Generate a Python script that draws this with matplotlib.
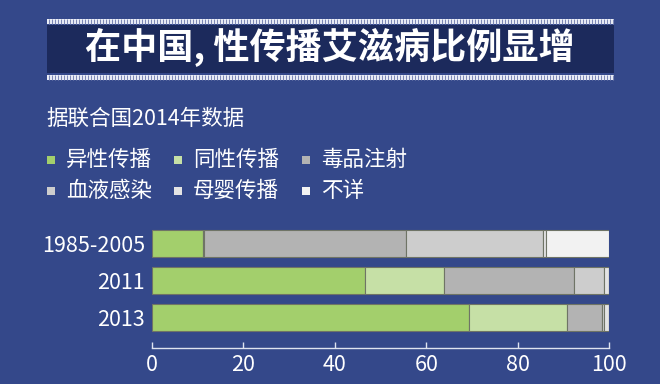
import matplotlib
matplotlib.use("Agg")
import matplotlib.pyplot as plt
import numpy as np
from matplotlib.patches import Rectangle

plt.rcParams['font.family'] = ['Noto Sans CJK SC', 'DejaVu Sans']

# ---------- DATA ----------
years = ["1985-2005", "2011", "2013"]
series = ["异性传播", "同性传播", "毒品注射", "血液感染", "母婴传播", "不详"]
hetero = [11.1, 46.5, 69.4]
homo = [0.3, 17.4, 21.4]
drugs = [44.2, 28.4, 7.7]
blood = [30.0, 6.6, 0.5]
mother = [0.7, 1.1, 1.0]
unknown = [13.7, 0.0, 0.0]
colors = ["#a3cf6c", "#c6e0a6", "#b3b3b3", "#cdcdcd", "#e4e4e4", "#f2f2f2"]
title = "在中国, 性传播艾滋病比例显增"
subtitle = "据联合国2014年数据"
# --------------------------

BG = "#34488a"
BOX = "#1c2a5c"

fig = plt.figure(figsize=(6.6, 3.84), dpi=100, facecolor=BG)

# decoration layer in pixel coords
deco = fig.add_axes([0, 0, 1, 1])
deco.set_xlim(0, 660)
deco.set_ylim(384, 0)
deco.axis("off")
deco.patch.set_alpha(0)

deco.add_patch(Rectangle((47, 24.5), 567, 48, facecolor=BOX, edgecolor="none"))
for y0 in (18.5, 74.5):
    deco.add_patch(Rectangle((47, y0), 567, 5, facecolor="#eef0f8", edgecolor="none"))
    deco.vlines(np.arange(48.5, 614, 3), y0, y0 + 5, color="#7d88b5", lw=0.8)
deco.text(330, 48, title, color="white", fontsize=26, fontweight="bold",
          ha="center", va="center")
deco.text(46, 119, subtitle, color="white", fontsize=15.5, ha="left", va="center")

# legend
col_x = [47, 174, 302]
row_y = [160, 191]
for i, (name, c) in enumerate(zip(series, colors)):
    x = col_x[i % 3]
    y = row_y[i // 3]
    deco.add_patch(Rectangle((x, y - 4), 7.5, 7.5, facecolor=c, edgecolor="none"))
    deco.text(x + 19, y, name, color="white", fontsize=15.5, ha="left", va="center")

# ---------- CHART ----------
ax = fig.add_axes([152 / 660, 0.09375, 457 / 660, (348 - 224.4) / 384])
ax.patch.set_alpha(0)
ypos = np.arange(len(years))
left = np.zeros(len(years))
for vals, c in zip([hetero, homo, drugs, blood, mother, unknown], colors):
    ax.barh(ypos, vals, left=left, height=0.72, color=c,
            edgecolor="#6f7466", linewidth=0.8)
    left += np.array(vals)

ax.set_xlim(0, 100)
ax.set_ylim(2.81, -0.5)
ax.set_yticks(ypos)
ax.set_yticklabels(years)
ax.set_xticks([0, 20, 40, 60, 80, 100])
for s in ["top", "right", "left"]:
    ax.spines[s].set_visible(False)
ax.spines["bottom"].set_color("#dfe3f0")
ax.spines["bottom"].set_linewidth(1)
ax.tick_params(axis="y", length=0, pad=5, labelcolor="white", labelsize=15.5)
ax.tick_params(axis="x", direction="in", length=4, width=1, color="#dfe3f0",
               labelcolor="white", labelsize=15.5, pad=4)

plt.savefig("out.png", dpi=100, facecolor=BG)
